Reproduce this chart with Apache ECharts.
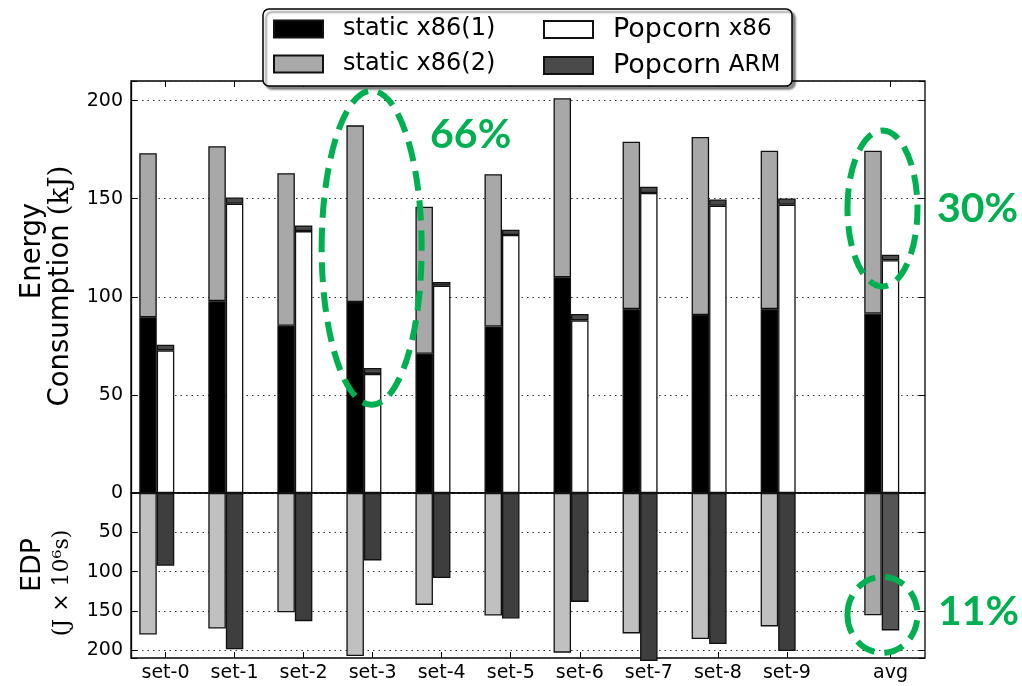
<!DOCTYPE html>
<html>
<head>
<meta charset="utf-8">
<script src="https://cdn.jsdelivr.net/npm/echarts@6/dist/echarts.min.js"></script>
<style>
  html, body { margin: 0; padding: 0; background: #fff; }
  #chart { width: 1022px; height: 686px; }
</style>
</head>
<body>
<div id="chart"></div>
<script>
// Workload sets, plus their average shown after a small gap
const categories = ['set-0', 'set-1', 'set-2', 'set-3', 'set-4', 'set-5', 'set-6', 'set-7', 'set-8', 'set-9', 'avg'];

// Energy consumption (kJ), stacked per configuration
const staticX86One = [89.6, 97.8, 85.2, 97.3, 71.0, 84.9, 110.0, 93.7, 90.7, 93.7, 91.5];
const staticX86Two = [83.6, 79.0, 77.8, 90.1, 74.9, 77.6, 91.2, 85.3, 90.8, 80.8, 83.0];
const popcornX86   = [72.7, 147.4, 133.5, 60.7, 105.7, 131.5, 88.0, 152.9, 146.4, 146.9, 118.6];
const popcornArm   = [2.9, 3.2, 2.9, 3.0, 1.9, 2.7, 3.3, 3.2, 3.2, 3.2, 2.9];

// Energy-delay product (J x 10^6 s)
const staticEdp  = [180.0, 172.4, 151.7, 207.4, 142.4, 155.9, 203.2, 178.7, 185.9, 169.8, 155.5];
const popcornEdp = [92.5, 199.0, 163.1, 85.8, 108.2, 159.7, 138.6, 213.8, 192.2, 201.1, 174.9];

// Axis ticks
const energyTicks = [0, 50, 100, 150, 200];
const edpTicks = [50, 100, 150, 200];

// ---------------------------------------------------------------------
// The x axis runs on half-step slots so the average can sit apart from the sets:
// slot 0 is the left edge, set-k sits on slot 2k+1, avg one extra slot further.
const FONT = 'DejaVu Sans';
const SERIF = 'DejaVu Serif';
const GREEN = '#00b050';
const AVG_EXTRA_SLOTS = 1;
const slotOf = categories.map((c, i) => 2 * i + 1 + (c === 'avg' ? AVG_EXTRA_SLOTS : 0));
const slotCount = slotOf[slotOf.length - 1] + 2;
const slotNames = Array.from({ length: slotCount }, () => '');
categories.forEach((c, i) => { slotNames[slotOf[i]] = c; });
const spread = (arr, styleFor) => {
  const out = Array.from({ length: slotCount }, () => '-');
  arr.forEach((v, i) => {
    const st = styleFor ? styleFor(categories[i]) : null;
    out[slotOf[i]] = st ? { value: v, itemStyle: st } : v;
  });
  return out;
};
const isCat = idx => slotNames[idx] !== '';

const chart = echarts.init(document.getElementById('chart'), null, { renderer: 'canvas' });

const xTick = { show: true, inside: true, length: 6, interval: isCat, lineStyle: { color: '#000', width: 1 } };
const xBase = {
  type: 'category', data: slotNames, boundaryGap: false,
  axisLine: { show: false, onZero: false }, splitLine: { show: false },
  axisLabel: { show: false }, axisTick: xTick
};
const yTick = { show: true, inside: true, length: 6, lineStyle: { color: '#000', width: 1 } };
const dotted = { show: true, lineStyle: { type: [1.5, 4], color: '#333', width: 1 } };

const barBase = {
  type: 'bar', barWidth: 17.5, barGap: '0%', clip: false,
  emphasis: { disabled: true }
};
const style = color => ({ color, borderColor: '#111', borderWidth: 1.3 });

const option = {
  animation: false,
  backgroundColor: '#fff',
  grid: [
    { left: 131, top: 81, width: 794, height: 412, show: true, borderColor: '#000', borderWidth: 1.3, backgroundColor: 'transparent' },
    { left: 131, top: 493, width: 794, height: 165, show: true, borderColor: '#000', borderWidth: 1.3, backgroundColor: 'transparent' }
  ],
  xAxis: [
    Object.assign({}, xBase, { gridIndex: 0, position: 'bottom' }),
    Object.assign({}, xBase, { gridIndex: 0, position: 'top' }),
    Object.assign({}, xBase, {
      gridIndex: 1, position: 'bottom',
      axisLabel: { show: true, interval: isCat, margin: 6, fontFamily: FONT, fontSize: 19, color: '#000' }
    }),
    Object.assign({}, xBase, { gridIndex: 1, position: 'top' })
  ],
  yAxis: [
    {
      gridIndex: 0, type: 'value', min: 0, max: 210, interval: 50,
      axisLine: { show: true, onZero: false, lineStyle: { color: '#000', width: 1.3 } },
      axisTick: yTick,
      axisLabel: { fontFamily: FONT, fontSize: 19, color: '#000', margin: 8,
        formatter: v => energyTicks.includes(v) ? String(v) : '' },
      splitLine: dotted
    },
    {
      gridIndex: 0, type: 'value', min: 0, max: 210, interval: 50, position: 'right',
      axisLine: { show: false, onZero: false }, axisTick: yTick, axisLabel: { show: false }, splitLine: { show: false }
    },
    {
      gridIndex: 1, type: 'value', min: 0, max: 210, interval: 50, inverse: true,
      axisLine: { show: true, onZero: false, lineStyle: { color: '#000', width: 1.3 } },
      axisTick: yTick,
      axisLabel: { fontFamily: FONT, fontSize: 19, color: '#000', margin: 8,
        formatter: v => edpTicks.includes(v) ? String(v) : '' },
      splitLine: dotted
    },
    {
      gridIndex: 1, type: 'value', min: 0, max: 210, interval: 50, inverse: true, position: 'right',
      axisLine: { show: false, onZero: false }, axisTick: yTick, axisLabel: { show: false }, splitLine: { show: false }
    }
  ],
  legend: [
    {
      data: ['static x86(1)', 'static x86(2)'],
      orient: 'vertical', left: 273, top: 16, padding: 0, itemGap: 9,
      itemWidth: 49, itemHeight: 17, icon: 'rect', selectedMode: false, z: 10,
      textStyle: { fontFamily: FONT, fontSize: 24, color: '#000', lineHeight: 26, padding: [0, 0, 0, 15] }
    },
    {
      data: ['Popcorn x86', 'Popcorn ARM'],
      orient: 'vertical', left: 543, top: 16, padding: 0, itemGap: 9,
      itemWidth: 49, itemHeight: 17, icon: 'rect', selectedMode: false, z: 10,
      formatter: name => { const p = name.split(' '); return '{p|' + p[0] + '} {s|' + p[1] + '}'; },
      textStyle: {
        fontFamily: FONT, fontSize: 24, color: '#000', lineHeight: 26, padding: [0, 0, 0, 15],
        rich: {
          p: { fontFamily: FONT, fontSize: 27, color: '#000', lineHeight: 26 },
          s: { fontFamily: FONT, fontSize: 23, color: '#000', lineHeight: 26 }
        }
      }
    }
  ],
  series: [
    Object.assign({}, barBase, { name: 'static x86(1)', stack: 'static', xAxisIndex: 0, yAxisIndex: 0,
      data: spread(staticX86One), itemStyle: style('#000') }),
    Object.assign({}, barBase, { name: 'static x86(2)', stack: 'static', xAxisIndex: 0, yAxisIndex: 0,
      data: spread(staticX86Two), itemStyle: style('#a8a8a8') }),
    Object.assign({}, barBase, { name: 'Popcorn x86', stack: 'popcorn', xAxisIndex: 0, yAxisIndex: 0,
      data: spread(popcornX86), itemStyle: style('#ffffff') }),
    Object.assign({}, barBase, { name: 'Popcorn ARM', stack: 'popcorn', xAxisIndex: 0, yAxisIndex: 0,
      data: spread(popcornArm), itemStyle: style('#4a4a4a') }),
    // empty third slot keeps the Popcorn bar centred on its tick
    Object.assign({}, barBase, { name: 'pad-top', stack: 'pad', xAxisIndex: 0, yAxisIndex: 0,
      data: spread([]), silent: true, itemStyle: { color: 'transparent' } }),

    Object.assign({}, barBase, { name: 'static EDP', stack: 'staticEdp', xAxisIndex: 2, yAxisIndex: 2,
      data: spread(staticEdp, c => c === 'avg' ? { color: '#a8a8a8' } : null), itemStyle: style('#c0c0c0') }),
    Object.assign({}, barBase, { name: 'Popcorn EDP', stack: 'popcornEdp', xAxisIndex: 2, yAxisIndex: 2,
      data: spread(popcornEdp, c => c === 'avg' ? { color: '#555555' } : null), itemStyle: style('#3e3e3e') }),
    Object.assign({}, barBase, { name: 'pad-bottom', stack: 'padEdp', xAxisIndex: 2, yAxisIndex: 2,
      data: spread([]), silent: true, itemStyle: { color: 'transparent' } })
  ]
};

chart.setOption(option);

// Axis titles, legend frame and the highlighted savings
const toPx = (grid, cat, y) => chart.convertToPixel(
  { xAxisIndex: grid === 0 ? 0 : 2, yAxisIndex: grid === 0 ? 0 : 2 },
  [slotOf[categories.indexOf(cat)], y]
);

const marks = [
  { grid: 0, cat: 'set-3', y: 125, dx: -1, rx: 50, ry: 157, label: '66%', tx: 98, ty: -113 },
  { grid: 0, cat: 'avg', y: 145, dx: -8, rx: 35, ry: 78, label: '30%', tx: 87, ty: 0 },
  { grid: 1, cat: 'avg', y: 155, dx: -8, rx: 35, ry: 38, label: '11%', tx: 88, ty: -3 }
];

const graphics = [
  {
    type: 'rect', z: 5, silent: true,
    shape: { x: 263, y: 9, width: 529, height: 77, r: 6 },
    style: { fill: '#fff', stroke: '#000', lineWidth: 1.5, shadowColor: 'rgba(0,0,0,0.45)', shadowBlur: 2, shadowOffsetX: 3, shadowOffsetY: 3 }
  },
  {
    type: 'text', x: 33, y: 251, rotation: Math.PI / 2, silent: true,
    style: { text: 'Energy', font: '27.5px "' + FONT + '"', fill: '#000', align: 'center', verticalAlign: 'middle' }
  },
  {
    type: 'text', x: 61, y: 286, rotation: Math.PI / 2, silent: true,
    style: {
      text: '{a|Consumption }{m|(kJ)}', align: 'center', verticalAlign: 'middle', fill: '#000',
      rich: { a: { fontFamily: FONT, fontSize: 27.5 }, m: { fontFamily: SERIF, fontSize: 28 } }
    }
  },
  {
    type: 'text', x: 33, y: 565, rotation: Math.PI / 2, silent: true,
    style: { text: 'EDP', font: '27px "' + FONT + '"', fill: '#000', align: 'center', verticalAlign: 'middle' }
  },
  {
    type: 'text', x: 62, y: 583, rotation: Math.PI / 2, silent: true,
    style: { text: '(J × 10⁶s)', font: '22px "' + SERIF + '"', fill: '#000', align: 'center', verticalAlign: 'middle' }
  }
];

marks.forEach(m => {
  const p = toPx(m.grid, m.cat, m.y);
  graphics.push({
    type: 'ellipse', z: 20, silent: true,
    shape: { cx: p[0] + m.dx, cy: p[1], rx: m.rx, ry: m.ry },
    style: { fill: 'none', stroke: GREEN, lineWidth: 6, lineDash: [20, 10] }
  });
  graphics.push({
    type: 'text', z: 20, silent: true, x: p[0] + m.tx, y: p[1] + m.ty,
    style: { text: m.label, font: 'bold 41px Lato', fill: GREEN, align: 'center', verticalAlign: 'middle' }
  });
});

chart.setOption({ graphic: graphics });
</script>
</body>
</html>
